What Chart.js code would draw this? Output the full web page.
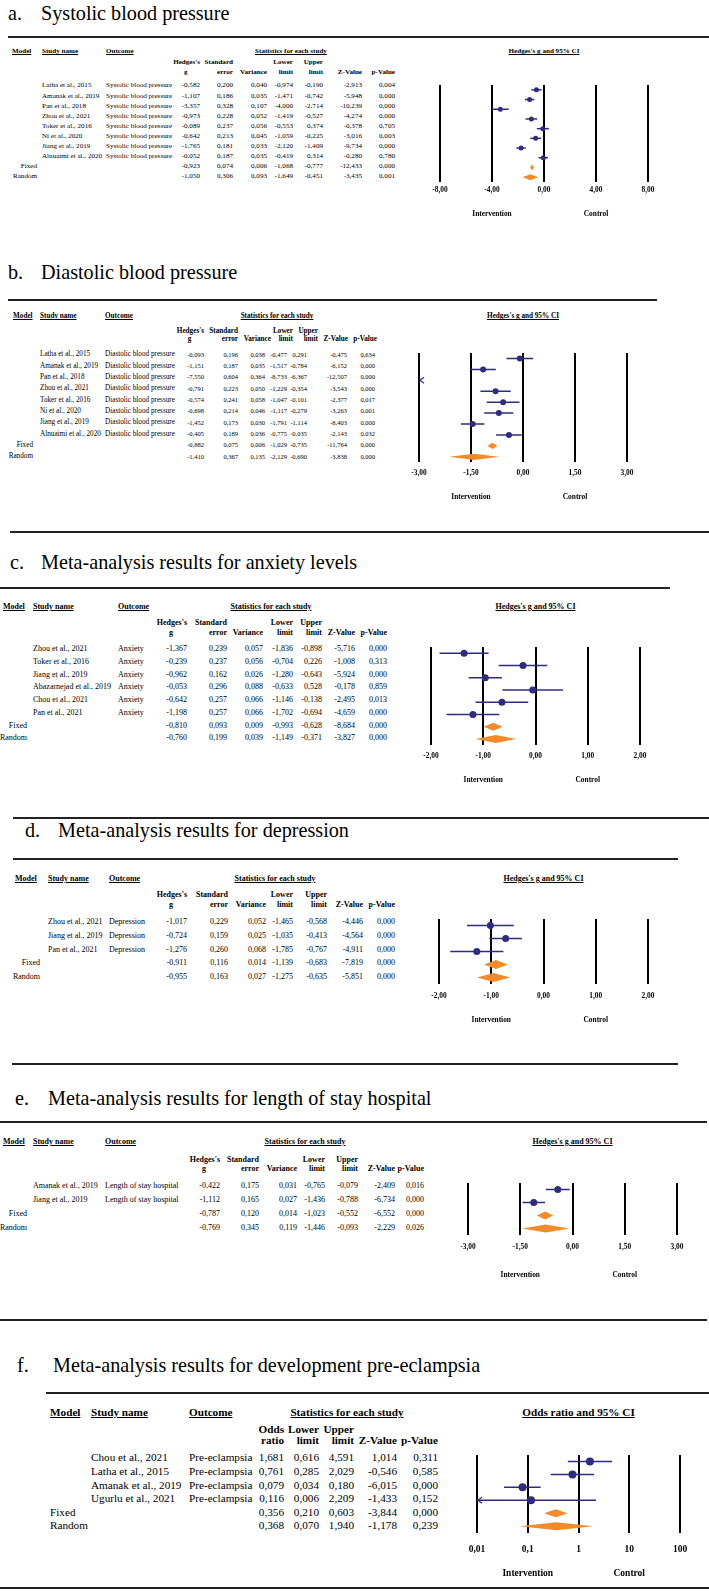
<!DOCTYPE html>
<html>
<head>
<meta charset="utf-8">
<script src="https://cdn.jsdelivr.net/npm/chart.js@4.4.0/dist/chart.umd.min.js"></script>
<style>
  html, body { margin: 0; padding: 0; background: #fff; }
  #page { position: relative; width: 709px; height: 1595px; overflow: hidden; font-family: "Liberation Serif", "Times New Roman", serif; color: #000; }
  .t { position: absolute; white-space: nowrap; line-height: 1; }
  .hr { position: absolute; height: 2px; background: #222; }
  .b { font-weight: bold; }
  .u { text-decoration: underline; }
  canvas { position: absolute; }
</style>
</head>
<body>
<div id="page"></div>
<script>
const models = ['Fixed', 'Random'];

// a. systolic blood pressure
const sysStudies = ['Latha et al., 2015', 'Amanak et al., 2019', 'Pan et al., 2018', 'Zhou et al., 2021', 'Toker et al., 2016', 'Ni et al., 2020', 'Jiang et al., 2019', 'Alnuaimi et al., 2020'];
const sysG = [-0.582, -1.107, -3.357, -0.973, -0.089, -0.642, -1.765, -0.052, -0.923, -1.050];
const sysSE = [0.200, 0.186, 0.328, 0.228, 0.237, 0.213, 0.181, 0.187, 0.074, 0.306];
const sysVar = [0.040, 0.035, 0.107, 0.052, 0.056, 0.045, 0.033, 0.035, 0.006, 0.093];
const sysLow = [-0.974, -1.471, -4.000, -1.419, -0.553, -1.059, -2.120, -0.419, -1.068, -1.649];
const sysUp = [-0.190, -0.742, -2.714, -0.527, 0.374, -0.225, -1.409, 0.314, -0.777, -0.451];
const sysZ = [-2.913, -5.948, -10.239, -4.274, -0.378, -3.016, -9.734, -0.280, -12.433, -3.435];
const sysP = [0.004, 0.000, 0.000, 0.000, 0.705, 0.003, 0.000, 0.780, 0.000, 0.001];
const sysTicks = [-8, -4, 0, 4, 8];

// b. diastolic blood pressure
const diaStudies = ['Latha et al., 2015', 'Amanak et al., 2019', 'Pan et al., 2018', 'Zhou et al., 2021', 'Toker et al., 2016', 'Ni et al., 2020', 'Jiang et al., 2019', 'Alnuaimi et al., 2020'];
const diaG = [-0.093, -1.151, -7.550, -0.791, -0.574, -0.698, -1.452, -0.405, -0.882, -1.410];
const diaSE = [0.196, 0.187, 0.604, 0.223, 0.241, 0.214, 0.173, 0.189, 0.075, 0.367];
const diaVar = [0.038, 0.035, 0.364, 0.050, 0.058, 0.046, 0.030, 0.036, 0.006, 0.135];
const diaLow = [-0.477, -1.517, -8.733, -1.229, -1.047, -1.117, -1.791, -0.775, -1.029, -2.129];
const diaUp = [0.291, -0.784, -6.367, -0.354, -0.101, -0.279, -1.114, -0.035, -0.735, -0.690];
const diaZ = [-0.475, -6.152, -12.507, -3.543, -2.377, -3.263, -8.403, -2.143, -11.764, -3.838];
const diaP = [0.634, 0.000, 0.000, 0.000, 0.017, 0.001, 0.000, 0.032, 0.000, 0.000];
const diaTicks = [-3, -1.5, 0, 1.5, 3];

// c. anxiety
const anxStudies = ['Zhou et al., 2021', 'Toker et al., 2016', 'Jiang et al., 2019', 'Abazarnejad et al., 2019', 'Chou et al., 2021', 'Pan et al., 2021'];
const anxG = [-1.367, -0.239, -0.962, -0.053, -0.642, -1.198, -0.810, -0.760];
const anxSE = [0.239, 0.237, 0.162, 0.296, 0.257, 0.257, 0.093, 0.199];
const anxVar = [0.057, 0.056, 0.026, 0.088, 0.066, 0.066, 0.009, 0.039];
const anxLow = [-1.836, -0.704, -1.280, -0.633, -1.146, -1.702, -0.993, -1.149];
const anxUp = [-0.898, 0.226, -0.643, 0.528, -0.138, -0.694, -0.628, -0.371];
const anxZ = [-5.716, -1.008, -5.924, -0.178, -2.495, -4.659, -8.684, -3.827];
const anxP = [0.000, 0.313, 0.000, 0.859, 0.013, 0.000, 0.000, 0.000];
const anxTicks = [-2, -1, 0, 1, 2];

// d. depression
const depStudies = ['Zhou et al., 2021', 'Jiang et al., 2019', 'Pan et al., 2021'];
const depG = [-1.017, -0.724, -1.276, -0.911, -0.955];
const depSE = [0.229, 0.159, 0.260, 0.116, 0.163];
const depVar = [0.052, 0.025, 0.068, 0.014, 0.027];
const depLow = [-1.465, -1.035, -1.785, -1.139, -1.275];
const depUp = [-0.568, -0.413, -0.767, -0.683, -0.635];
const depZ = [-4.446, -4.564, -4.911, -7.819, -5.851];
const depP = [0.000, 0.000, 0.000, 0.000, 0.000];
const depTicks = [-2, -1, 0, 1, 2];

// e. length of stay hospital
const losStudies = ['Amanak et al., 2019', 'Jiang et al., 2019'];
const losG = [-0.422, -1.112, -0.787, -0.769];
const losSE = [0.175, 0.165, 0.120, 0.345];
const losVar = [0.031, 0.027, 0.014, 0.119];
const losLow = [-0.765, -1.436, -1.023, -1.446];
const losUp = [-0.079, -0.788, -0.552, -0.093];
const losZ = [-2.409, -6.734, -6.552, -2.229];
const losP = [0.016, 0.000, 0.000, 0.026];
const losTicks = [-3, -1.5, 0, 1.5, 3];

// f. pre-eclampsia (odds ratio)
const preStudies = ['Chou et al., 2021', 'Latha et al., 2015', 'Amanak et al., 2019', 'Ugurlu et al., 2021'];
const preOR = [1.681, 0.761, 0.079, 0.116, 0.356, 0.368];
const preLow = [0.616, 0.285, 0.034, 0.006, 0.210, 0.070];
const preUp = [4.591, 2.029, 0.180, 2.209, 0.603, 1.940];
const preZ = [1.014, -0.546, -6.015, -1.433, -3.844, -1.178];
const preP = [0.311, 0.585, 0.000, 0.152, 0.000, 0.239];
const preTicks = [0.01, 0.1, 1, 10, 100];

const navy = '#2f2c80';
const orange = '#f48a2a';
const gHeads = [["Hedges's", 'g'], ['Standard', 'error'], ['', 'Variance'], ['Lower', 'limit'], ['Upper', 'limit'], ['', 'Z-Value'], ['', 'p-Value']];

const panels = [
  { letter: 'a.', title: 'Systolic blood pressure', outcome: 'Systolic blood pressure',
    studies: sysStudies, est: sysG, low: sysLow, up: sysUp,
    cols: [sysG, sysSE, sysVar, sysLow, sysUp, sysZ, sysP], heads: gHeads,
    ticks: sysTicks, log: false, ciTitle: "Hedges's g and 95% CI",
    titleY: 13, letterX: 8, titleX: 41, titleSize: 20.2, lines: [[37, 8, 709]],
    headY: 52, sub1Y: 63, sub2Y: 73, row0: 86, rowH: 10.1, fs: 7.1, numFs: 7.1,
    modelX: 12, studyX: 42, outX: 106, statsC: 291, modelR: 37,
    colR: [200, 233, 267, 293, 323, 362, 395], headR: [200, 233, 267, 293, 323, 362, 395],
    pxMin: 440, pxMax: 648, tickY: 190, labY: 214, radius: 2.5, dh: 3, tickSize: 7.4 },
  { letter: 'b.', title: 'Diastolic blood pressure', outcome: 'Diastolic blood pressure',
    studies: diaStudies, est: diaG, low: diaLow, up: diaUp,
    cols: [diaG, diaSE, diaVar, diaLow, diaUp, diaZ, diaP], heads: gHeads,
    ticks: diaTicks, log: false, ciTitle: "Hedges's g and 95% CI",
    titleY: 272, letterX: 8, titleX: 41, titleSize: 20.2, lines: [[300, 8, 657]],
    headY: 317, sub1Y: 332, sub2Y: 340, row0: 355, rowH: 11.33, fs: 7.2, numFs: 6.5,
    modelX: 13, studyX: 40, outX: 105, statsC: 277, modelR: 33,
    colR: [204, 238, 265, 287, 307, 347, 375], headR: [204, 238, 271, 293, 318, 348, 377],
    pxMin: 419, pxMax: 627, tickY: 473, labY: 497, radius: 3, dh: 3.2, tickSize: 7.4 },
  { letter: 'c.', title: 'Meta-analysis results for anxiety levels', outcome: 'Anxiety',
    studies: anxStudies, est: anxG, low: anxLow, up: anxUp,
    cols: [anxG, anxSE, anxVar, anxLow, anxUp, anxZ, anxP], heads: gHeads,
    ticks: anxTicks, log: false, ciTitle: "Hedges's g and 95% CI",
    titleY: 562, letterX: 10, titleX: 41, titleSize: 20.2, lines: [[532, 10, 709], [588, 0, 670]],
    headY: 607, sub1Y: 623, sub2Y: 633, row0: 649, rowH: 12.75, fs: 8, numFs: 8,
    modelX: 3, studyX: 33, outX: 118, statsC: 271, modelR: 27,
    colR: [187, 227, 263, 293, 322, 355, 387], headR: [187, 227, 263, 293, 322, 355, 387],
    pxMin: 431, pxMax: 640, tickY: 756, labY: 780, radius: 3.5, dh: 4, tickSize: 7.4 },
  { letter: 'd.', title: 'Meta-analysis results for depression', outcome: 'Depression',
    studies: depStudies, est: depG, low: depLow, up: depUp,
    cols: [depG, depSE, depVar, depLow, depUp, depZ, depP], heads: gHeads,
    ticks: depTicks, log: false, ciTitle: "Hedges's g and 95% CI",
    titleY: 830, letterX: 25, titleX: 58, titleSize: 20.2, lines: [[818, 13, 709], [859, 13, 678]],
    headY: 879, sub1Y: 895, sub2Y: 905, row0: 922, rowH: 13.8, fs: 8, numFs: 8,
    modelX: 15, studyX: 48, outX: 109, statsC: 275, modelR: 40,
    colR: [187, 228, 266, 293, 327, 363, 395], headR: [187, 228, 266, 293, 327, 363, 395],
    pxMin: 439, pxMax: 648, tickY: 996, labY: 1020, radius: 3.5, dh: 4.5, tickSize: 7.4 },
  { letter: 'e.', title: 'Meta-analysis results for length of stay hospital', outcome: 'Length of stay hospital',
    studies: losStudies, est: losG, low: losLow, up: losUp,
    cols: [losG, losSE, losVar, losLow, losUp, losZ, losP], heads: gHeads,
    ticks: losTicks, log: false, ciTitle: "Hedges's g and 95% CI",
    titleY: 1098, letterX: 15, titleX: 48, titleSize: 20.2, lines: [[1064, 12, 678], [1122, 0, 707]],
    headY: 1142, sub1Y: 1160, sub2Y: 1169, row0: 1186, rowH: 14, fs: 8, numFs: 8,
    modelX: 3, studyX: 33, outX: 105, statsC: 305, modelR: 27,
    colR: [220, 259, 297, 325, 358, 395, 424], headR: [220, 259, 297, 325, 358, 395, 424],
    pxMin: 468, pxMax: 677, tickY: 1247, labY: 1275, radius: 3.5, dh: 4, tickSize: 7.4 },
  { letter: 'f.', title: 'Meta-analysis results for development pre-eclampsia', outcome: 'Pre-eclampsia',
    studies: preStudies, est: preOR, low: preLow, up: preUp,
    cols: [preOR, preLow, preUp, preZ, preP],
    heads: [['Odds', 'ratio'], ['Lower', 'limit'], ['Upper', 'limit'], ['', 'Z-Value'], ['', 'p-Value']],
    ticks: preTicks, log: true, ciTitle: 'Odds ratio and 95% CI',
    titleY: 1365, letterX: 17, titleX: 53, titleSize: 20.2, lines: [[1320, 0, 707], [1393, 46, 709], [1588, 0, 709]],
    headY: 1413, sub1Y: 1430, sub2Y: 1441, row0: 1458, rowH: 13.6, fs: 11.2, numFs: 11.2,
    modelX: 50, studyX: 91, outX: 189, statsC: 347, modelR: null,
    colR: [284, 319, 354, 397, 438], headR: [284, 319, 354, 397, 438],
    pxMin: 477, pxMax: 680, tickY: 1550, labY: 1574, radius: 4, dh: 4, tickSize: 9.5 }
];

const page = document.getElementById('page');

function fmt(v) {
  return v.toFixed(3).replace('.', ',');
}

function addText(x, y, str, size, align, cls) {
  const d = document.createElement('div');
  d.className = 't ' + (cls || '');
  d.textContent = str;
  d.style.fontSize = size + 'px';
  d.style.top = (y - size / 2) + 'px';
  if (align === 'right') {
    d.style.left = (x - 400) + 'px'; d.style.width = '400px'; d.style.textAlign = 'right';
  } else if (align === 'center') {
    d.style.left = (x - 300) + 'px'; d.style.width = '600px'; d.style.textAlign = 'center';
  } else {
    d.style.left = x + 'px';
  }
  page.appendChild(d);
}

function addLine(y, x1, x2) {
  const d = document.createElement('div');
  d.className = 'hr';
  d.style.top = (y - 1) + 'px';
  d.style.left = x1 + 'px';
  d.style.width = (x2 - x1) + 'px';
  page.appendChild(d);
}

function drawTable(p) {
  addText(p.letterX, p.titleY, p.letter, p.titleSize, 'left');
  addText(p.titleX, p.titleY, p.title, p.titleSize, 'left');
  p.lines.forEach(l => addLine(l[0], l[1], l[2]));

  addText(p.modelX, p.headY, 'Model', p.fs, 'left', 'b u');
  addText(p.studyX, p.headY, 'Study name', p.fs, 'left', 'b u');
  addText(p.outX, p.headY, 'Outcome', p.fs, 'left', 'b u');
  addText(p.statsC, p.headY, 'Statistics for each study', p.fs, 'center', 'b u');
  addText((p.pxMin + p.pxMax) / 2, p.headY, p.ciTitle, p.fs, 'center', 'b u');
  p.heads.forEach((h, j) => {
    if (h[0]) addText(p.headR[j], p.sub1Y, h[0], p.fs, 'right', 'b');
    if (h[1] === 'g') addText(p.headR[j] - 2 * p.fs, p.sub2Y, 'g', p.fs, 'center', 'b');
    else addText(p.headR[j], p.sub2Y, h[1], p.fs, 'right', 'b');
  });

  p.studies.concat(models).forEach((name, i) => {
    const y = p.row0 + i * p.rowH;
    if (i < p.studies.length) {
      addText(p.studyX, y, name, p.fs, 'left');
      addText(p.outX, y, p.outcome, p.fs, 'left');
    } else if (p.modelR) {
      addText(p.modelR, y, name, p.fs, 'right');
    } else {
      addText(p.modelX, y, name, p.fs, 'left');
    }
    p.cols.forEach((col, j) => addText(p.colR[j], y, fmt(col[i]), p.numFs, 'right'));
  });
}

function forestMarks(p, top) {
  return {
    id: 'forestMarks',
    afterDatasetsDraw(chart) {
      const ctx = chart.ctx;
      const x = chart.scales.x, y = chart.scales.y;
      const nS = p.studies.length;
      ctx.save();
      // pooled diamonds
      for (let k = nS; k < nS + models.length; k++) {
        const yy = y.getPixelForValue(k);
        ctx.beginPath();
        ctx.moveTo(x.getPixelForValue(p.low[k]), yy);
        ctx.lineTo(x.getPixelForValue(p.est[k]), yy - p.dh);
        ctx.lineTo(x.getPixelForValue(p.up[k]), yy);
        ctx.lineTo(x.getPixelForValue(p.est[k]), yy + p.dh);
        ctx.closePath();
        ctx.fillStyle = orange;
        ctx.fill();
      }
      // arrows for intervals running off the left edge
      ctx.strokeStyle = navy;
      ctx.lineWidth = 1.2;
      for (let i = 0; i < nS; i++) {
        if (p.low[i] < p.ticks[0]) {
          const yy = y.getPixelForValue(i);
          const lx = x.left + 1;
          ctx.beginPath();
          ctx.moveTo(lx + 4, yy - 3);
          ctx.lineTo(lx, yy);
          ctx.lineTo(lx + 4, yy + 3);
          ctx.stroke();
        }
      }
      ctx.restore();
    },
    afterDraw(chart) {
      const ctx = chart.ctx;
      const x = chart.scales.x;
      ctx.save();
      ctx.font = 'bold ' + p.tickSize + "px 'Liberation Serif'";
      ctx.fillStyle = '#000';
      ctx.textAlign = 'center';
      ctx.textBaseline = 'middle';
      ctx.fillText('Intervention', x.getPixelForValue(p.ticks[1]), p.labY - top);
      ctx.fillText('Control', x.getPixelForValue(p.ticks[3]), p.labY - top);
      ctx.restore();
    }
  };
}

function drawPlot(p) {
  const nS = p.studies.length;
  const n = nS + models.length;
  const top = p.row0 - p.rowH / 2;
  const areaH = n * p.rowH;
  const pad = 30;
  const h = Math.ceil(p.labY + 10 - top);
  const axisH = h - areaH;

  const canvas = document.createElement('canvas');
  canvas.width = p.pxMax - p.pxMin + 2 * pad;
  canvas.height = h;
  canvas.style.left = (p.pxMin - pad) + 'px';
  canvas.style.top = top + 'px';
  page.appendChild(canvas);

  const datasets = [];
  for (let i = 0; i < nS; i++) {
    datasets.push({
      data: [{ x: p.low[i], y: i }, { x: p.up[i], y: i }],
      showLine: true, borderColor: navy, borderWidth: 1.5, pointRadius: 0
    });
  }
  datasets.push({
    data: p.studies.map((s, i) => ({ x: p.est[i], y: i })),
    showLine: false, pointRadius: p.radius, pointBackgroundColor: navy,
    pointBorderColor: navy, pointBorderWidth: 0
  });

  new Chart(canvas, {
    type: 'scatter',
    data: { datasets: datasets },
    options: {
      responsive: false,
      animation: false,
      events: [],
      layout: { padding: { left: pad, right: pad, top: 0, bottom: 0 } },
      plugins: { legend: { display: false }, tooltip: { enabled: false } },
      scales: {
        x: {
          type: p.log ? 'logarithmic' : 'linear',
          min: p.ticks[0], max: p.ticks[p.ticks.length - 1],
          border: { display: false },
          grid: { color: '#000', lineWidth: 2, drawTicks: false },
          afterBuildTicks: axis => { axis.ticks = p.ticks.map(v => ({ value: v })); },
          afterFit: axis => { axis.height = axisH; },
          ticks: {
            color: '#000',
            padding: (p.tickY - top) - areaH - 0.6 * p.tickSize,
            font: { family: "'Liberation Serif'", size: p.tickSize, weight: 'bold' },
            callback: v => p.log ? String(v).replace('.', ',') : Number(v).toFixed(2).replace('.', ',')
          }
        },
        y: { type: 'linear', display: false, reverse: true, min: -0.5, max: n - 0.5 }
      }
    },
    plugins: [forestMarks(p, top)]
  });
}

document.addEventListener('DOMContentLoaded', function () {
  panels.forEach(p => {
    drawTable(p);
    drawPlot(p);
  });
});
</script>
</body>
</html>
